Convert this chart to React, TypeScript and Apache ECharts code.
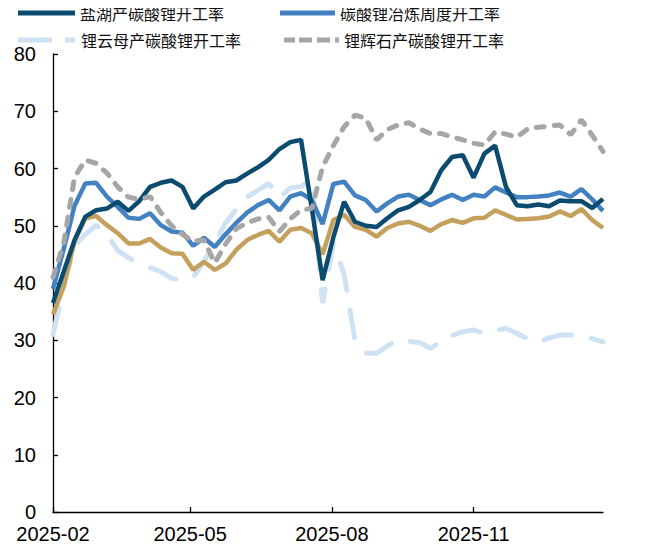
import React, { useEffect, useRef } from "react";
import * as echarts from "echarts";

const dates = [
  "2025-02-01", "2025-02-08", "2025-02-15", "2025-02-22",
  "2025-03-01", "2025-03-08", "2025-03-15", "2025-03-22", "2025-03-29",
  "2025-04-05", "2025-04-12", "2025-04-19", "2025-04-26",
  "2025-05-03", "2025-05-10", "2025-05-17", "2025-05-24", "2025-05-31",
  "2025-06-07", "2025-06-14", "2025-06-21", "2025-06-28",
  "2025-07-05", "2025-07-12", "2025-07-19", "2025-07-26",
  "2025-08-02", "2025-08-09", "2025-08-16", "2025-08-23", "2025-08-30",
  "2025-09-06", "2025-09-13", "2025-09-20", "2025-09-27",
  "2025-10-04", "2025-10-11", "2025-10-18", "2025-10-25",
  "2025-11-01", "2025-11-08", "2025-11-15", "2025-11-22", "2025-11-29",
  "2025-12-06", "2025-12-13", "2025-12-20", "2025-12-27",
  "2026-01-03", "2026-01-10", "2026-01-17", "2026-01-24",
];

const tickDates = ["2025-02-01", "2025-05-01", "2025-08-01", "2025-11-01"];

// 盐湖产碳酸锂开工率
const saltLake = [
  36.5, 42.0, 47.5, 51.6, 52.7, 53.0, 54.2, 52.6, 54.3, 56.8, 57.5, 57.9, 56.8,
  53.0, 55.1, 56.3, 57.6, 57.9, 59.1, 60.2, 61.5, 63.4, 64.6, 65.0, 53.0, 40.5,
  48.0, 54.2, 50.7, 50.0, 49.8, 51.3, 52.7, 53.3, 54.5, 55.9, 59.7, 62.0, 62.3,
  58.4, 62.6, 64.0, 56.8, 53.6, 53.4, 53.7, 53.4, 54.4, 54.3, 54.3, 53.1, 54.7,
];

// 碳酸锂冶炼周度开工率
const smelting = [
  39.0, 46.0, 53.5, 57.4, 57.5, 55.1, 53.3, 51.4, 51.2, 52.2, 50.1, 49.0, 48.8,
  46.5, 47.9, 46.3, 48.5, 50.5, 52.3, 53.6, 54.5, 52.7, 55.1, 55.7, 54.5, 50.3,
  57.3, 57.7, 55.3, 54.5, 52.5, 53.9, 55.1, 55.4, 54.5, 53.6, 54.6, 55.4, 54.5,
  55.4, 55.1, 56.7, 55.8, 55.0, 55.0, 55.1, 55.3, 55.8, 55.1, 56.4, 54.6, 52.6,
];

// 锂云母产碳酸锂开工率
const lepidolite = [
  31.0, 39.5, 46.5, 48.5, 50.1, 48.5, 45.7, 44.4, 43.4, 42.7, 42.0, 40.8, 40.6,
  41.0, 43.8, 47.0, 50.5, 52.9, 55.0, 56.2, 57.4, 54.9, 56.6, 56.8, 58.2, 36.5,
  47.0, 41.5, 30.0, 27.8, 27.7, 29.0, 30.1, 29.8, 29.6, 28.6, 29.8, 30.8, 31.5,
  31.8, 31.2, 31.7, 32.1, 31.2, 30.3, 29.7, 30.4, 30.9, 30.9, 30.9, 30.3, 29.7,
];

// 锂辉石产碳酸锂开工率
const spodumene = [
  41.0, 47.0, 58.5, 61.5, 60.9, 59.2, 56.8, 55.0, 54.6, 55.1, 52.3, 50.0, 48.5,
  47.3, 47.5, 43.5, 46.8, 49.5, 50.5, 51.2, 51.5, 49.0, 51.2, 52.8, 53.0, 60.3,
  64.0, 67.3, 69.3, 68.8, 65.0, 66.8, 67.6, 68.0, 66.9, 66.1, 66.1, 65.5, 65.0,
  64.4, 64.1, 66.4, 66.0, 65.5, 66.9, 67.2, 67.4, 67.6, 65.9, 68.5, 65.8, 63.0,
];

// 未列入图例的金色序列
const other = [
  34.5, 39.4, 47.3, 51.3, 51.7, 50.1, 48.7, 46.9, 46.9, 47.7, 46.2, 45.2, 45.1,
  42.3, 43.7, 42.3, 43.4, 45.8, 47.5, 48.4, 49.1, 47.2, 49.3, 49.6, 48.7, 45.0,
  51.0, 51.9, 49.8, 49.3, 48.1, 49.6, 50.4, 50.7, 50.0, 49.1, 50.3, 51.0, 50.5,
  51.3, 51.4, 52.7, 51.9, 51.1, 51.2, 51.3, 51.6, 52.5, 51.7, 52.9, 51.0, 49.6,
];

const names = [
  "盐湖产碳酸锂开工率",
  "碳酸锂冶炼周度开工率",
  "锂云母产碳酸锂开工率",
  "锂辉石产碳酸锂开工率",
];

const iconSolid = "path://M0,0H57V5H0Z";
const iconLongDash = "path://M0,0H34V5H0Z M47,0H57V5H47Z";
const iconShortDash = "path://M0,0H11V5H0Z M15,0H28V5H15Z M33,0H46V5H33Z M51,0H55V5H51Z";

const toTs = (s: string) => new Date(s + "T00:00:00").getTime();
const pair = (arr: number[]) => arr.map((v, i) => [toTs(dates[i]), v]);

export default function App() {
  const ref = useRef<HTMLDivElement>(null);
  useEffect(() => {
    if (!ref.current) return;
    const chart = echarts.init(ref.current, undefined, { renderer: "svg" });
    const legendText = {
      fontFamily: "'Noto Sans CJK SC', sans-serif",
      fontSize: 16,
      color: "#111",
    };
    const mkLegend = (name: string, icon: string, w: number, left: number, top: number) => ({
      show: true,
      data: [{ name, icon }],
      left,
      top,
      itemWidth: w,
      itemHeight: 5,
      itemGap: 0,
      padding: 0,
      textStyle: legendText,
      selectedMode: false,
    });
    const tickVals = tickDates.map(toTs);
    chart.setOption({
      animation: false,
      backgroundColor: "#fff",
      legend: [
        mkLegend(names[0], iconSolid, 57, 18, 5),
        mkLegend(names[1], iconSolid, 55, 280, 5),
        mkLegend(names[2], iconLongDash, 59, 18, 32),
        mkLegend(names[3], iconShortDash, 55, 284, 32),
      ],
      grid: { left: 53, right: 56, top: 54, bottom: 38, containLabel: false },
      xAxis: {
        type: "value",
        min: toTs(dates[0]),
        max: toTs(dates[dates.length - 1]),
        axisLine: { lineStyle: { color: "#000", width: 1.3 } },
        axisTick: {
          inside: true,
          length: 5,
          customValues: tickVals,
          lineStyle: { color: "#000", width: 1.3 },
        },
        axisLabel: {
          customValues: tickVals,
          fontFamily: "'Liberation Sans', Arial, sans-serif",
          fontSize: 20,
          color: "#000",
          margin: 12,
          formatter: (v: number) => {
            const d = new Date(v);
            return `${d.getFullYear()}-${String(d.getMonth() + 1).padStart(2, "0")}`;
          },
        },
        splitLine: { show: false },
      },
      yAxis: {
        type: "value",
        min: 0,
        max: 80,
        interval: 10,
        axisLine: { show: true, lineStyle: { color: "#000", width: 1.3 } },
        axisTick: { show: true, inside: true, length: 5, lineStyle: { color: "#000", width: 1.3 } },
        axisLabel: {
          fontFamily: "'Liberation Sans', Arial, sans-serif",
          fontSize: 20,
          color: "#000",
          margin: 17,
        },
        splitLine: { show: false },
      },
      series: [
        {
          name: names[2],
          type: "line",
          data: pair(lepidolite),
          showSymbol: false,
          symbol: "none",
          lineStyle: { color: "#CFE2F3", width: 5, type: [28, 20], cap: "round" },
          itemStyle: { color: "#CFE2F3" },
          z: 2,
        },
        {
          name: "其他",
          type: "line",
          data: pair(other),
          showSymbol: false,
          symbol: "none",
          lineStyle: { color: "#C4A05C", width: 4.5 },
          itemStyle: { color: "#C4A05C" },
          z: 3,
        },
        {
          name: names[1],
          type: "line",
          data: pair(smelting),
          showSymbol: false,
          symbol: "none",
          lineStyle: { color: "#4282C2", width: 4.5 },
          itemStyle: { color: "#4282C2" },
          z: 4,
        },
        {
          name: names[0],
          type: "line",
          data: pair(saltLake),
          showSymbol: false,
          symbol: "none",
          lineStyle: { color: "#0B4B70", width: 4.5 },
          itemStyle: { color: "#0B4B70" },
          z: 5,
        },
        {
          name: names[3],
          type: "line",
          data: pair(spodumene),
          showSymbol: false,
          symbol: "none",
          lineStyle: { color: "#A6A6A6", width: 5, type: [8, 10], cap: "round" },
          itemStyle: { color: "#A6A6A6" },
          z: 6,
        },
      ],
    });
    return () => chart.dispose();
  }, []);
  return <div ref={ref} style={{ width: 659, height: 550, margin: -8 }} />;
}
